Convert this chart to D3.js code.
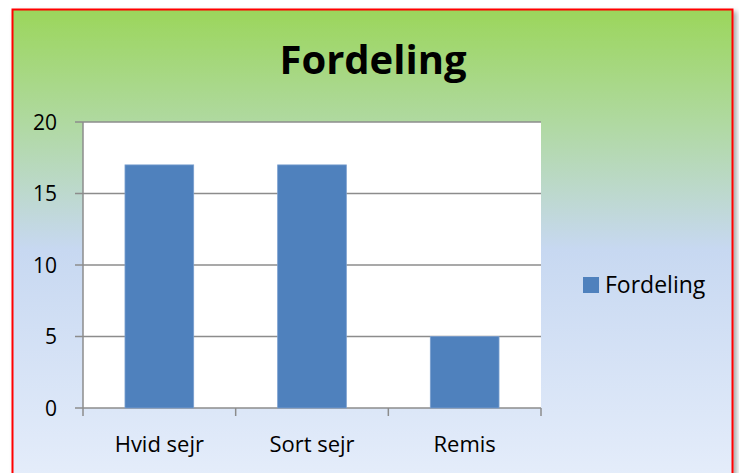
<!DOCTYPE html>
<html>
<head>
<meta charset="utf-8">
<script src="https://cdn.jsdelivr.net/npm/d3@7"></script>
<style>
  html, body { margin: 0; padding: 0; background: #fff; }
  svg { display: block; }
  text { font-family: "Open Sans", "Noto Sans", sans-serif; fill: #000; }
</style>
</head>
<body>
<div id="chart"></div>
<script>
var categories = ["Hvid sejr", "Sort sejr", "Remis"];
var values = [17, 17, 5];
var yTicks = [0, 5, 10, 15, 20];
var seriesName = "Fordeling";
var chartTitle = "Fordeling";

var w = 739, h = 473;
var plot = { left: 83, right: 541, top: 122, bottom: 408 };

var svg = d3.select("#chart").append("svg")
  .attr("width", w)
  .attr("height", h);

// background gradient + drop shadow
var defs = svg.append("defs");
var grad = defs.append("linearGradient")
  .attr("id", "bg")
  .attr("x1", 0).attr("y1", 0).attr("x2", 0).attr("y2", 1);
grad.append("stop").attr("offset", "0%").attr("stop-color", "#9bd65b");
grad.append("stop").attr("offset", "24%").attr("stop-color", "#b0d9a2");
grad.append("stop").attr("offset", "50%").attr("stop-color", "#c7d8f1");
grad.append("stop").attr("offset", "100%").attr("stop-color", "#e6eefb");

var shadow = defs.append("filter").attr("id", "shadow")
  .attr("x", "-5%").attr("y", "-5%").attr("width", "110%").attr("height", "110%");
shadow.append("feDropShadow")
  .attr("dx", 3).attr("dy", 3).attr("stdDeviation", 2.5)
  .attr("flood-color", "#000").attr("flood-opacity", 0.35);

svg.append("rect")
  .attr("x", 12.5).attr("y", 9.5)
  .attr("width", 720).attr("height", 480)
  .attr("fill", "url(#bg)")
  .attr("stroke", "#ff0000")
  .attr("stroke-width", 2)
  .attr("filter", "url(#shadow)");

// title
svg.append("text")
  .attr("x", 373).attr("y", 74)
  .attr("text-anchor", "middle")
  .style("font-size", "40px")
  .style("font-weight", "bold")
  .text(chartTitle);

// scales
var x = d3.scaleBand()
  .domain(categories)
  .range([plot.left, plot.right])
  .paddingInner(0.55)
  .paddingOuter(0.275);

var y = d3.scaleLinear()
  .domain([0, 20])
  .range([plot.bottom, plot.top]);

// plot area
svg.append("rect")
  .attr("x", plot.left).attr("y", plot.top)
  .attr("width", plot.right - plot.left)
  .attr("height", plot.bottom - plot.top)
  .attr("fill", "#fff");

// gridlines
svg.append("g")
  .selectAll("line")
  .data(yTicks)
  .enter()
  .append("line")
  .attr("x1", plot.left - 8)
  .attr("x2", plot.right)
  .attr("y1", function(d) { return y(d); })
  .attr("y2", function(d) { return y(d); })
  .attr("stroke", "#8c8c8c")
  .attr("stroke-width", 1.5);

// bars
svg.append("g")
  .selectAll("rect")
  .data(values)
  .enter()
  .append("rect")
  .attr("x", function(d, i) { return x(categories[i]); })
  .attr("y", function(d) { return y(d); })
  .attr("width", x.bandwidth())
  .attr("height", function(d) { return y(0) - y(d); })
  .attr("fill", "#4f81bd")
  .attr("stroke", "#7a9fcf")
  .attr("stroke-width", 0.8);

// y axis
var yAxis = d3.axisLeft(y)
  .tickValues(yTicks)
  .tickSize(8)
  .tickPadding(18);
var gy = svg.append("g")
  .attr("transform", "translate(" + plot.left + ",0)")
  .call(yAxis);
gy.select(".domain").attr("stroke", "#8c8c8c").attr("stroke-width", 1.5)
  .attr("d", "M0," + plot.top + "V" + plot.bottom);
gy.selectAll(".tick line").remove();
gy.selectAll(".tick text")
  .style("font-size", "21px")
  .style("font-family", "'Open Sans', sans-serif")
  .attr("fill", "#000")
  .attr("dy", "0.35em");

// x axis ticks at band boundaries
var bounds = [plot.left].concat(categories.map(function(c) {
  return x(c) + x.bandwidth() + x.step() * x.paddingInner() / 2;
}));
bounds[bounds.length - 1] = plot.right;
svg.append("g")
  .selectAll("line")
  .data(bounds)
  .enter()
  .append("line")
  .attr("x1", function(d) { return d; })
  .attr("x2", function(d) { return d; })
  .attr("y1", plot.bottom)
  .attr("y2", plot.bottom + 8)
  .attr("stroke", "#8c8c8c")
  .attr("stroke-width", 1.5);

svg.append("g")
  .selectAll("text")
  .data(categories)
  .enter()
  .append("text")
  .attr("x", function(d) { return x(d) + x.bandwidth() / 2; })
  .attr("y", 452)
  .attr("text-anchor", "middle")
  .style("font-size", "22px")
  .text(function(d) { return d; });

// legend
var legend = svg.append("g").attr("transform", "translate(583,277)");
legend.append("rect")
  .attr("width", 16).attr("height", 16)
  .attr("fill", "#4f81bd");
legend.append("text")
  .attr("x", 22).attr("y", 16)
  .style("font-size", "23px")
  .text(seriesName);
</script>
</body>
</html>
